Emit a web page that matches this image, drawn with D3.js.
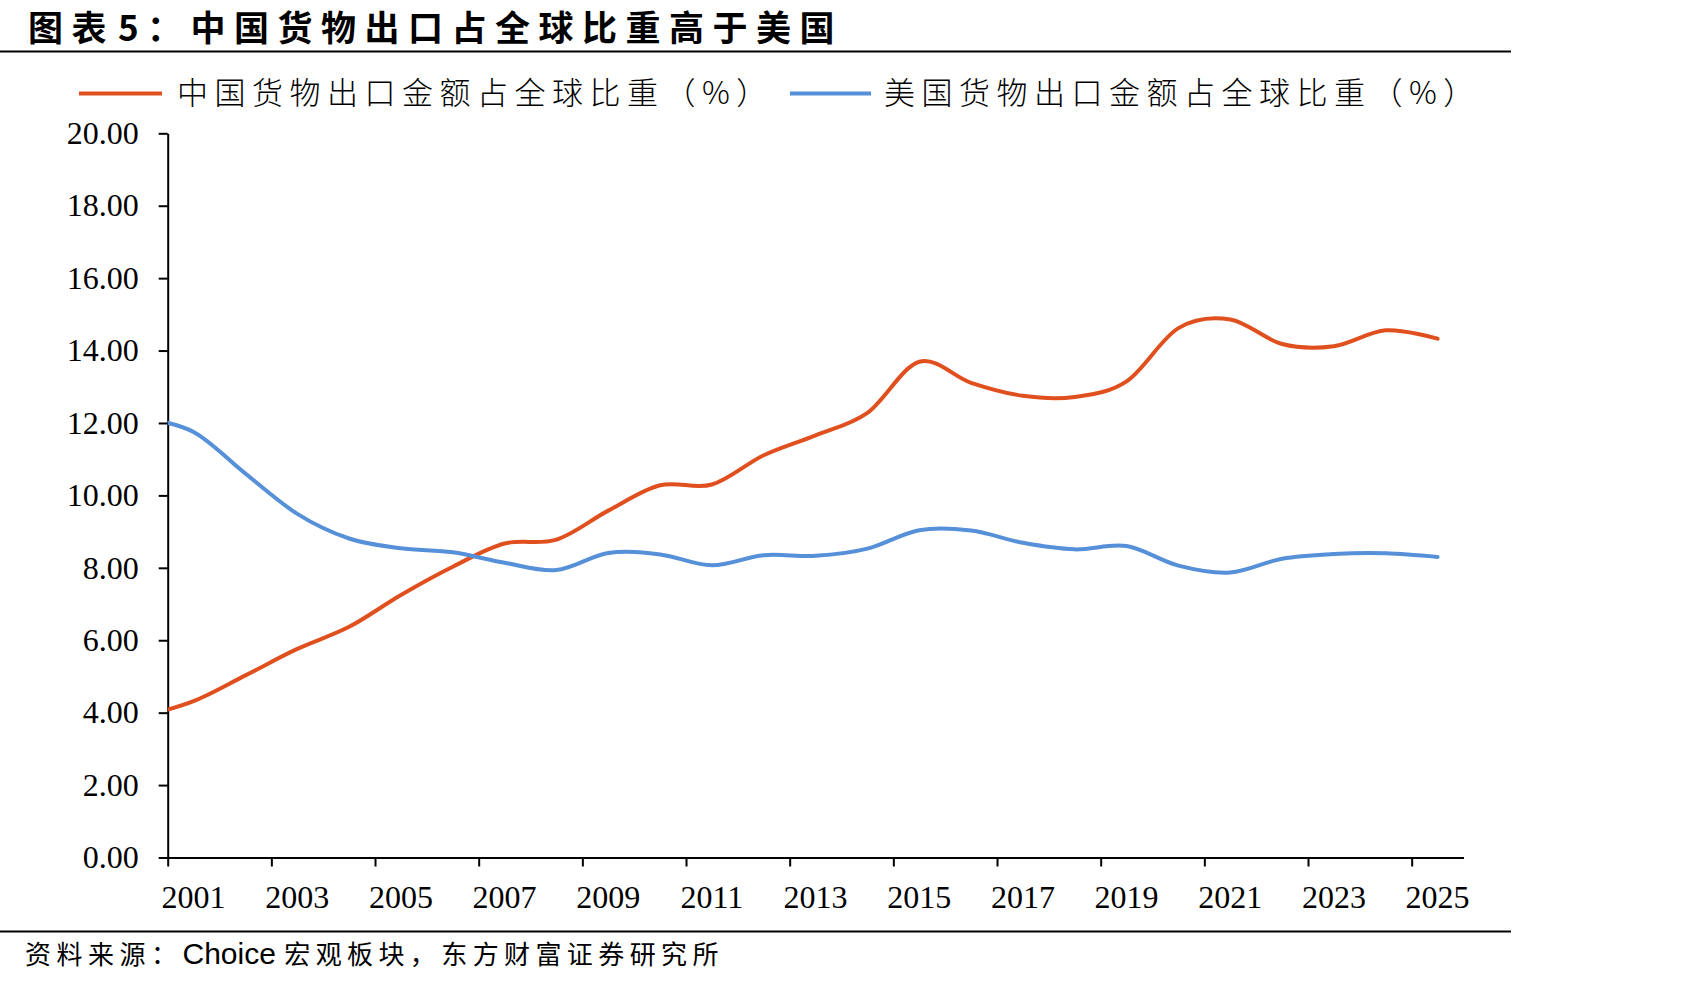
<!DOCTYPE html>
<html>
<head>
<meta charset="utf-8">
<script src="https://cdn.jsdelivr.net/npm/d3@7"></script>
<style>
    body { margin: 0; background: #ffffff; }
</style>
</head>
<body>
<script>
//chart data: share of world merchandise exports (%)
var years = [2000, 2001, 2002, 2003, 2004, 2005, 2006, 2007, 2008, 2009, 2010, 2011, 2012,
    2013, 2014, 2015, 2016, 2017, 2018, 2019, 2020, 2021, 2022, 2023, 2024, 2025];
var chinaShare = [3.90, 4.32, 5.03, 5.76, 6.37, 7.25, 8.03, 8.67, 8.78, 9.58, 10.28, 10.30, 11.11,
    11.66, 12.28, 13.69, 13.11, 12.75, 12.72, 13.15, 14.62, 14.86, 14.18, 14.12, 14.56, 14.33];
var usShare = [12.15, 11.75, 10.60, 9.49, 8.81, 8.54, 8.43, 8.14, 7.94, 8.41, 8.37, 8.07, 8.35,
    8.33, 8.53, 9.04, 9.03, 8.69, 8.51, 8.60, 8.06, 7.87, 8.25, 8.38, 8.40, 8.30];
var xLabels = [2001, 2003, 2005, 2007, 2009, 2011, 2013, 2015, 2017, 2019, 2021, 2023, 2025];
var yTicks = [0, 2, 4, 6, 8, 10, 12, 14, 16, 18, 20];
var seriesNames = ['中国货物出口金额占全球比重（%）', '美国货物出口金额占全球比重（%）'];

var svgW = 1701, svgH = 984;
var plot = {left: 167.7, right: 1463.5, top: 133.3, bottom: 857.5};
var colors = ['#e0501f', '#5590d9'];
var cjk = '"Noto Sans CJK SC", "Noto Sans", sans-serif';
var serif = '"Liberation Serif", "DejaVu Serif", serif';

//draw the layout
var mainLayout = d3.select('body')
    .append('svg')
    .attr('width', svgW)
    .attr('height', svgH)
    .style('display', 'block')
    .style('background', '#ffffff');

//title and the rules
var title = mainLayout.append('text')
    .attr('x', 28)
    .attr('y', 40.5)
    .style('font-family', cjk)
    .style('font-weight', 700)
    .style('font-size', '35px')
    .style('letter-spacing', '8.5px')
    .style('fill', '#000');

title.append('tspan').text('图表');
title.append('tspan').style('letter-spacing', '-5px').text(' ');
title.append('tspan').text('5：中国货物出口占全球比重高于美国');

mainLayout.append('line')
    .attr('x1', 0).attr('x2', 1511)
    .attr('y1', 51.5).attr('y2', 51.5)
    .style('stroke', '#000')
    .style('stroke-width', 2);

mainLayout.append('line')
    .attr('x1', 0).attr('x2', 1511)
    .attr('y1', 931.5).attr('y2', 931.5)
    .style('stroke', '#000')
    .style('stroke-width', 2);

//scales: each year sits in the middle of its slot
var x = d3.scaleLinear()
    .domain([2000.5, 2025.5])
    .range([plot.left, plot.right]);

var y = d3.scaleLinear()
    .domain([0, 20])
    .range([plot.bottom, plot.top]);

//y axis
var yAxis = mainLayout.append('g')
    .attr('transform', 'translate(' + plot.left + ',0)')
    .call(d3.axisLeft(y)
        .tickValues(yTicks)
        .tickFormat(d3.format('.2f'))
        .tickSize(9)
        .tickSizeOuter(0)
        .tickPadding(20));

yAxis.selectAll('text')
    .style('font-family', serif)
    .style('font-size', '32px')
    .style('fill', '#000');

//x axis, ticks on the slot borders
var xTicks = xLabels.map(function (d) { return d - 0.5; });

var xAxis = mainLayout.append('g')
    .attr('transform', 'translate(0,' + plot.bottom + ')')
    .call(d3.axisBottom(x)
        .tickValues(xTicks)
        .tickFormat('')
        .tickSize(9)
        .tickSizeOuter(0));

mainLayout.selectAll('g path, g line')
    .style('stroke', '#000')
    .style('stroke-width', 2);

mainLayout.append('g')
    .selectAll('text')
    .data(xLabels)
    .enter()
    .append('text')
    .attr('x', function (d) { return x(d); })
    .attr('y', 908)
    .attr('text-anchor', 'middle')
    .text(function (d) { return d; })
    .style('font-family', serif)
    .style('font-size', '32px')
    .style('fill', '#000');

//clip the lines at the plot area
mainLayout.append('clipPath')
    .attr('id', 'plotClip')
    .append('rect')
    .attr('x', plot.left)
    .attr('y', 0)
    .attr('width', plot.right - plot.left)
    .attr('height', svgH);

var line = d3.line()
    .x(function (d) { return x(d[0]); })
    .y(function (d) { return y(d[1]); })
    .curve(d3.curveCatmullRom.alpha(0));

[chinaShare, usShare].forEach(function (values, i) {
    mainLayout.append('path')
        .datum(d3.zip(years, values))
        .attr('d', line)
        .attr('clip-path', 'url(#plotClip)')
        .style('fill', 'none')
        .style('stroke', colors[i])
        .style('stroke-width', 4)
        .style('stroke-linecap', 'round');
});

//legend
var legendX = [[79, 162, 177], [790, 871, 884]];

seriesNames.forEach(function (name, i) {
    mainLayout.append('line')
        .attr('x1', legendX[i][0]).attr('x2', legendX[i][1])
        .attr('y1', 93.5).attr('y2', 93.5)
        .style('stroke', colors[i])
        .style('stroke-width', 4);

    mainLayout.append('text')
        .attr('x', legendX[i][2])
        .attr('y', 104)
        .text(name)
        .style('font-family', cjk)
        .style('font-weight', 300)
        .style('font-size', '31px')
        .style('letter-spacing', '6.5px')
        .style('fill', '#000');
});

//source note
var source = mainLayout.append('text')
    .attr('x', 25)
    .attr('y', 964)
    .style('font-family', cjk)
    .style('font-size', '26px')
    .style('fill', '#000');

source.append('tspan')
    .style('letter-spacing', '5.5px')
    .text('资料来源：');

source.append('tspan')
    .style('font-family', '"Liberation Sans", Arial, sans-serif')
    .style('font-size', '30px')
    .text('Choice ');

source.append('tspan')
    .style('letter-spacing', '5.4px')
    .text('宏观板块，东方财富证券研究所');
</script>
</body>
</html>
